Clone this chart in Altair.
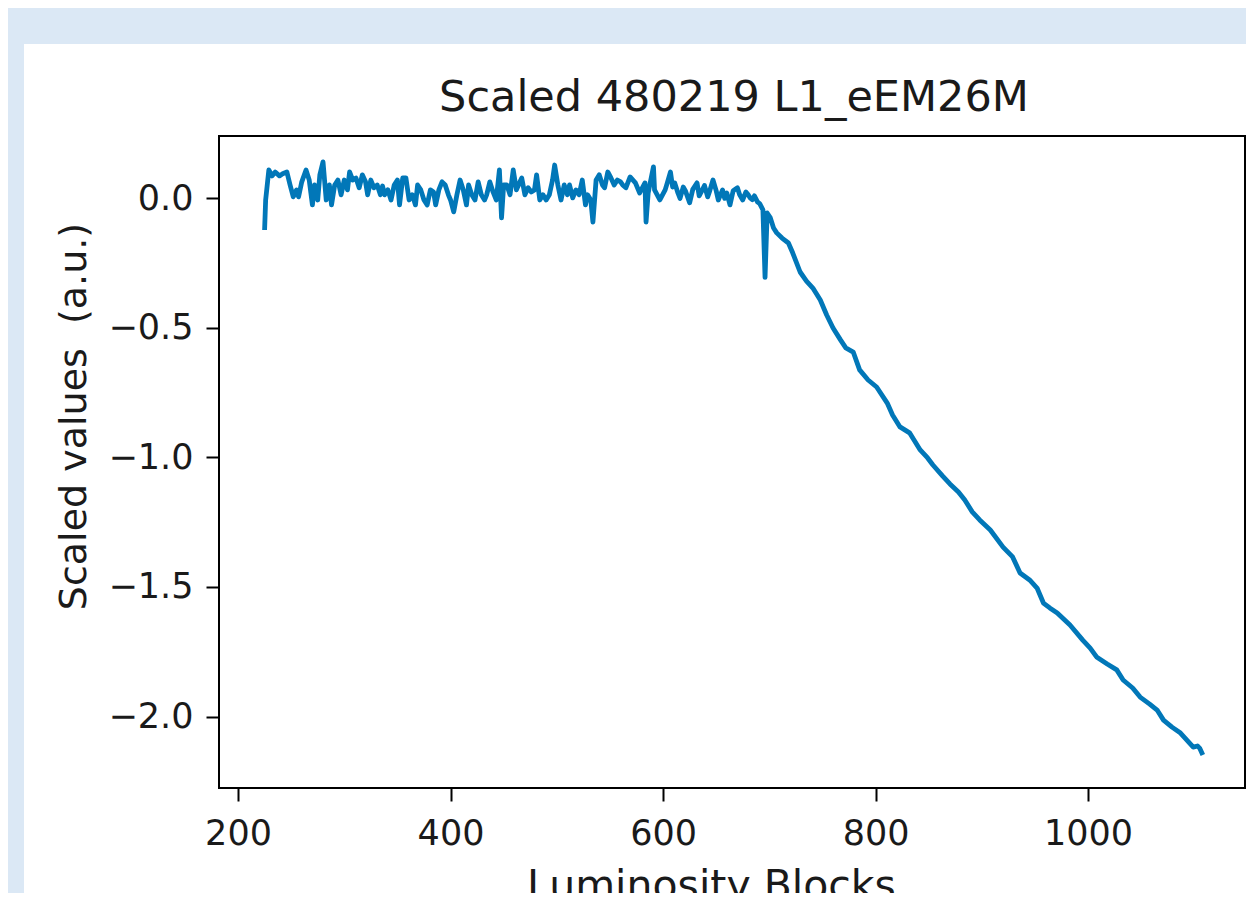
import altair as alt
import pandas as pd

TITLE = "Scaled 480219 L1_eEM26M"
X_TITLE = "Luminosity Blocks"
Y_TITLE = "Scaled values\u00a0 (a.u.)"

X_TICKS = [200, 400, 600, 800, 1000]
Y_TICKS = [-2.0, -1.5, -1.0, -0.5, 0.0]

# flat part of the run (luminosity block, scaled value)
flat_lumi = [
    225, 226, 229, 232, 235, 239, 242, 246, 249, 252, 255, 257, 260, 264, 267, 270,
    272, 275, 277, 280, 283, 286, 288, 291, 294, 297, 300, 303, 305, 308, 311, 314,
    317, 320, 322, 325, 328, 331, 334, 336, 338, 341, 344, 347, 350, 352, 355, 358,
    361, 364, 367, 369, 372, 375, 378, 381, 384, 386, 389, 392, 395, 398, 400, 403,
    406, 409, 412, 415, 417, 420, 423, 426, 429, 432, 434, 437, 440, 443, 446, 448,
    450, 453, 456, 459, 462, 464, 467, 470, 473, 476, 479, 481, 484, 487, 490, 493,
    496, 498, 501, 504, 507, 510, 512, 515, 518, 521, 524, 527, 529, 532, 534, 537,
    540, 543, 545, 548, 551, 554, 557, 560, 562, 565, 569, 574, 578, 583, 584, 586,
    591, 592, 597, 602, 604, 607, 609, 611, 614, 616, 619, 621, 625, 628, 632, 634,
    637, 639, 642, 644, 647, 650, 652, 656, 658, 660, 663, 666, 670, 672, 675, 678,
    680, 682, 684, 686, 689, 691, 694, 696,
]
flat_vals = [
    -0.122, -0.006, 0.110, 0.087, 0.102, 0.087, 0.095, 0.102, 0.052, 0.006, 0.033, 0.006, 0.064, 0.110, 0.071, -0.025,
    0.052, -0.006, 0.091, 0.141, -0.006, 0.052, -0.025, 0.052, 0.071, 0.014, 0.071, 0.033, 0.102, 0.071, 0.079, 0.041,
    0.091, 0.064, 0.014, 0.071, 0.041, 0.052, 0.014, 0.048, 0.014, 0.033, -0.006, 0.052, 0.071, -0.025, 0.079, 0.079,
    -0.006, 0.014, -0.025, 0.052, 0.033, -0.006, -0.025, 0.033, 0.025, -0.025, 0.033, 0.064, 0.052, 0.014, -0.006, -0.052,
    0.014, 0.071, 0.033, -0.025, 0.052, 0.014, -0.006, 0.064, 0.014, -0.006, 0.014, 0.064, 0.025, -0.006, 0.110, -0.075,
    0.052, 0.052, 0.014, 0.110, 0.033, 0.052, 0.079, 0.014, 0.041, 0.025, 0.033, 0.091, -0.006, 0.014, -0.006, 0.014,
    0.071, 0.129, 0.052, -0.006, 0.052, 0.014, 0.052, 0.002, 0.033, 0.014, 0.071, -0.025, 0.014, -0.006, -0.091, 0.071,
    0.091, 0.052, 0.041, 0.102, 0.079, 0.052, 0.071, 0.064, 0.052, 0.041, 0.083, 0.060, 0.021, 0.060, -0.091, 0.021,
    0.122, 0.033, -0.006, 0.033, 0.060, 0.102, 0.044, 0.060, 0.021, 0.000, 0.044, 0.030, -0.017, 0.035, 0.060, 0.010,
    0.033, 0.050, 0.006, 0.030, 0.071, 0.030, -0.006, 0.033, 0.000, 0.021, -0.025, 0.030, 0.041, 0.015, -0.006, 0.025,
    0.015, 0.002, -0.005, 0.010, -0.014, -0.020, -0.044, -0.305,
]

# falling part of the run
fall_lumi = [
    698, 701, 704, 707, 712, 718, 722, 729, 735, 741, 748, 754, 760, 767, 772, 779,
    785, 793, 801, 811, 816, 823, 832, 842, 849, 854, 863, 870, 878, 884, 891, 898,
    908, 920, 929, 936, 945, 952, 958, 964, 971, 983, 995, 1002, 1008, 1018, 1027, 1033,
    1042, 1049, 1058, 1065, 1071, 1079, 1087, 1093, 1099, 1103, 1105, 1108,
]
fall_vals = [
    -0.056, -0.075, -0.114, -0.133, -0.153, -0.172, -0.210, -0.284, -0.319, -0.346, -0.392, -0.450, -0.500, -0.546, -0.577, -0.593,
    -0.662, -0.701, -0.728, -0.790, -0.836, -0.882, -0.905, -0.971, -1.002, -1.029, -1.071, -1.102, -1.133, -1.164, -1.210, -1.241,
    -1.280, -1.346, -1.384, -1.446, -1.473, -1.504, -1.562, -1.581, -1.600, -1.647, -1.705, -1.736, -1.770, -1.797, -1.820, -1.859,
    -1.890, -1.925, -1.952, -1.975, -2.014, -2.041, -2.064, -2.091, -2.118, -2.114, -2.122, -2.149,
]

df = pd.DataFrame({"lumi": flat_lumi + fall_lumi, "value": flat_vals + fall_vals})

W, H = 1026, 652
PAD = {"left": 211, "top": 128, "right": 1, "bottom": 105}
BG_BLUE = "#dbe8f5"
FONT = "DejaVu Sans"
INK = "#1a1a1a"

line = alt.Chart(df).mark_line(color="#0177b8", strokeWidth=4.8, strokeJoin="round").encode(
    x=alt.X(
        "lumi:Q",
        scale=alt.Scale(domain=[182.1, 1147.7], nice=False, zero=False),
        axis=alt.Axis(
            values=X_TICKS, format="d", title=X_TITLE, labelPadding=15,
            titleX=492, titleY=110, titleBaseline="alphabetic", titleAlign="center",
            titleFontSize=41,
        ),
    ),
    y=alt.Y(
        "value:Q",
        scale=alt.Scale(domain=[-2.276, 0.241], nice=False, zero=False),
        axis=alt.Axis(
            values=Y_TICKS, format=".1f", title=Y_TITLE, labelPadding=13,
            titleX=-134, titleY=280, titleAngle=-90, titleBaseline="alphabetic",
            titleAlign="center", titleFontSize=38,
        ),
    ),
)

top_strip = alt.Chart(alt.Data(values=[{"k": 0}])).mark_rect(color=BG_BLUE).encode(
    x=alt.value(-PAD["left"]), x2=alt.value(W + 2),
    y=alt.value(-PAD["top"]), y2=alt.value(-92),
)
left_strip = alt.Chart(alt.Data(values=[{"k": 0}])).mark_rect(color=BG_BLUE).encode(
    x=alt.value(-PAD["left"]), x2=alt.value(-195),
    y=alt.value(-PAD["top"]), y2=alt.value(H + PAD["bottom"]),
)

title = alt.Chart(alt.Data(values=[{"t": TITLE}])).mark_text(
    font=FONT, fontSize=43, color=INK, align="center", baseline="alphabetic"
).encode(x=alt.value(515), y=alt.value(-25), text="t:N")

chart = (
    alt.layer(top_strip, left_strip, line, title)
    .properties(width=W, height=H, padding=PAD, autosize=alt.AutoSizeParams(type="none"))
    .configure(background="white")
    .configure_view(stroke="#000", strokeWidth=2)
    .configure_axis(
        grid=False, domain=False, ticks=True, tickSize=13, tickWidth=2, tickColor="#000",
        labelFont=FONT, labelFontSize=35, labelColor=INK,
        titleFont=FONT, titleFontWeight="normal", titleColor=INK, zindex=1,
    )
)

chart.save("out.html", embed_options={"renderer": "svg", "actions": False})
